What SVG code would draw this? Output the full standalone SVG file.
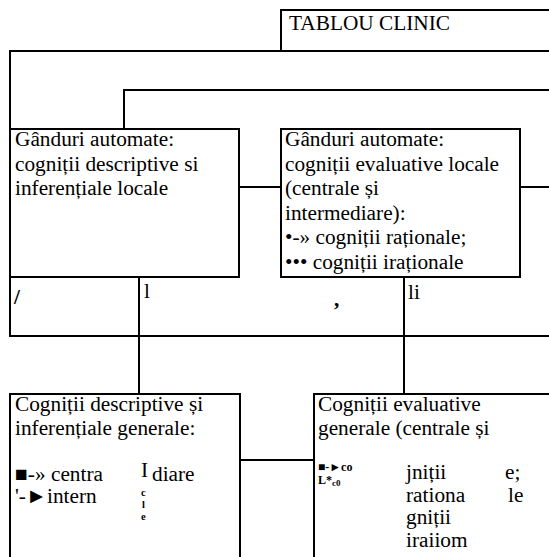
<svg xmlns="http://www.w3.org/2000/svg" width="549" height="557" viewBox="0 0 549 557">
  <style>
    .box { fill: #fff; stroke: #000; stroke-width: 2; }
    .ln { fill: none; stroke: #000; stroke-width: 2; }
    text { font-family: "Liberation Serif", "Times New Roman", serif; font-size: 21.3px; fill: #000; }
    .sm { font-size: 12px; font-weight: bold; }
    .xs { font-size: 10.5px; font-weight: bold; }
    .bd { font-weight: bold; }
  </style>
  <rect width="549" height="557" fill="#fff"/>

  <!-- connectors -->
  <g id="connectors">
    <path class="ln" d="M10,51 H549"/>
    <path class="ln" d="M10,50 V129"/>
    <path class="ln" d="M124,90 H549"/>
    <path class="ln" d="M124,89 V129"/>
    <path class="ln" d="M239,187 H280"/>
    <path class="ln" d="M520,187 H549"/>
    <path class="ln" d="M10,277 V336 H549"/>
    <path class="ln" d="M139,277 V394"/>
    <path class="ln" d="M404,277 V394"/>
    <path class="ln" d="M240,460 H313"/>
  </g>

  <!-- top title -->
  <g id="tablou-clinic">
    <path class="ln" d="M281,51 V10 H549"/>
    <text x="289" y="30">TABLOU CLINIC</text>
  </g>

  <!-- automatic thoughts: descriptive / inferential -->
  <g id="ganduri-descriptive">
    <rect class="box" x="10" y="129" width="229" height="148"/>
    <text x="15" y="146">Gânduri automate:</text>
    <text x="15" y="171">cogniții descriptive si</text>
    <text x="15" y="195">inferențiale locale</text>
  </g>

  <!-- automatic thoughts: evaluative -->
  <g id="ganduri-evaluative">
    <rect class="box" x="281" y="129" width="239" height="148"/>
    <text x="285" y="146">Gânduri automate:</text>
    <text x="285" y="170.5">cogniții evaluative locale</text>
    <text x="285" y="195">(centrale și</text>
    <text x="285" y="219.5">intermediare):</text>
    <text x="285" y="244">•-» cogniții raționale;</text>
    <text x="285" y="268.5">••• cogniții iraționale</text>
  </g>

  <!-- stray marks between the rows -->
  <g id="marks">
    <text class="bd" x="14" y="304" font-size="27">/</text>
    <text x="144" y="298">l</text>
    <text class="bd" x="334" y="306" font-size="26">,</text>
    <text x="408" y="299">li</text>
  </g>

  <!-- general descriptive / inferential cognitions -->
  <g id="cognitii-descriptive">
    <rect class="box" x="10" y="394" width="230" height="175"/>
    <text x="15" y="411">Cogniții descriptive și</text>
    <text x="15" y="435">inferențiale generale:</text>
    <text x="15" y="481">■-» centra</text>
    <text x="15" y="503">'-►intern</text>
    <text x="141" y="477" font-size="14">I</text>
    <text x="152" y="481">diare</text>
    <text class="xs" x="141" y="496">c</text>
    <text class="xs" x="142" y="508">l</text>
    <text class="xs" x="141" y="520">e</text>
  </g>

  <!-- general evaluative cognitions -->
  <g id="cognitii-evaluative">
    <rect class="box" x="314" y="394" width="250" height="175"/>
    <text x="318" y="411">Cogniții evaluative</text>
    <text x="318" y="435">generale (centrale și</text>
    <text class="sm"><tspan x="318" y="471">■-►co</tspan><tspan x="318" y="484">L*</tspan><tspan font-size="9" dy="2">c0</tspan></text>
    <text x="406" y="479">jniții</text>
    <text x="505" y="479">e;</text>
    <text x="406" y="502">rationa</text>
    <text x="508" y="502">le</text>
    <text x="406" y="524">gniții</text>
    <text x="406" y="547">iraiiom</text>
  </g>
</svg>
